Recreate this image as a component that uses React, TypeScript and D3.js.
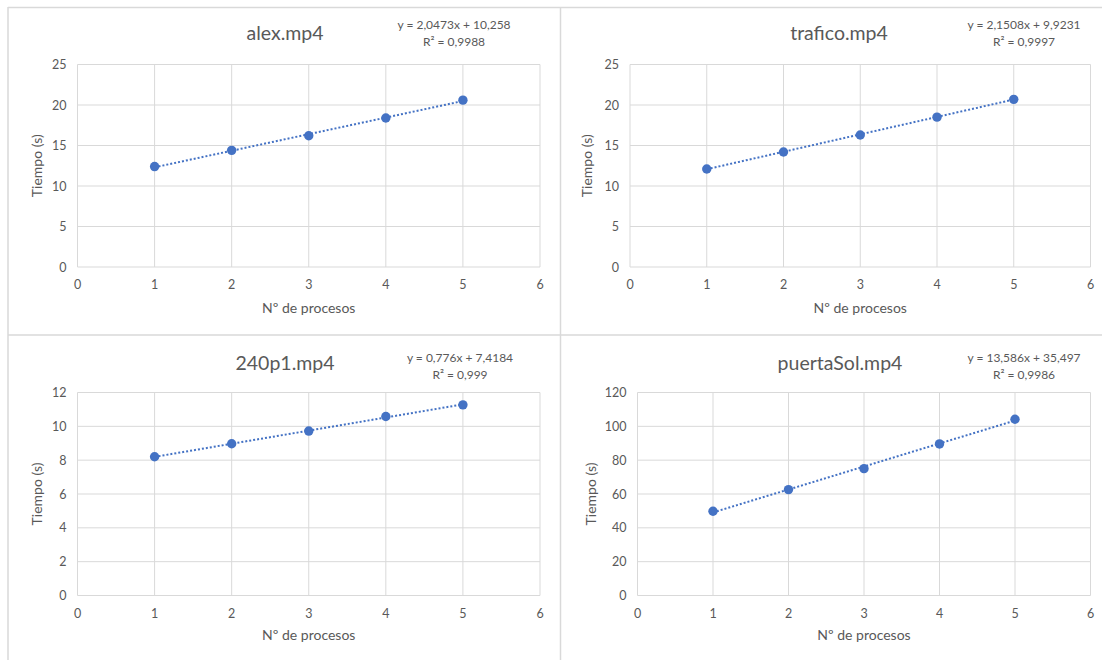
import React from "react";
import * as d3 from "d3";

// ---- data ----
const titles = ["alex.mp4", "trafico.mp4", "240p1.mp4", "puertaSol.mp4"];
const procesos = [1, 2, 3, 4, 5];
const alexTimes = [12.4, 14.4, 16.2, 18.4, 20.6];
const traficoTimes = [12.1, 14.2, 16.3, 18.5, 20.7];
const p240Times = [8.2, 8.97, 9.72, 10.58, 11.27];
const puertaSolTimes = [49.8, 62.6, 75.0, 89.6, 104.2];
const slopes = [2.0473, 2.1508, 0.776, 13.586];
const intercepts = [10.258, 9.9231, 7.4184, 35.497];
const r2Values = ["0,9988", "0,9997", "0,999", "0,9986"];
const equationTexts = [
  "y = 2,0473x + 10,258",
  "y = 2,1508x + 9,9231",
  "y = 0,776x + 7,4184",
  "y = 13,586x + 35,497",
];
const yMaxes = [25, 25, 12, 120];
const yStepTicks = [
  [0, 5, 10, 15, 20, 25],
  [0, 5, 10, 15, 20, 25],
  [0, 2, 4, 6, 8, 10, 12],
  [0, 20, 40, 60, 80, 100, 120],
];
const xTicks = [0, 1, 2, 3, 4, 5, 6];
const xAxisTitle = "Nº de procesos";
const yAxisTitle = "Tiempo (s)";

const seriesList = [alexTimes, traficoTimes, p240Times, puertaSolTimes];

// ---- layout ----
const layouts = [
  { x0: 77.5, x1: 540, y0: 64.5, y1: 267, titleX: 285, titleY: 39.5, eqX: 454, eqY: 28.5, ytX: 42, xtY: 312.5 },
  { x0: 630, x1: 1090.5, y0: 64.5, y1: 267, titleX: 839, titleY: 39.5, eqX: 1024, eqY: 28.5, ytX: 592, xtY: 312.5 },
  { x0: 77.5, x1: 540, y0: 392.5, y1: 595.5, titleX: 285, titleY: 370, eqX: 460, eqY: 362, ytX: 42, xtY: 640 },
  { x0: 637.5, x1: 1090.5, y0: 392.5, y1: 595.5, titleX: 840, titleY: 370, eqX: 1024, eqY: 362, ytX: 596, xtY: 640 },
];

const FONT = "Lato, 'Open Sans', sans-serif";
const GRID = "#d9d9d9";
const TEXT = "#595959";
const BLUE = "#4472C4";

function Panel({ i }: { i: number }) {
  const L = layouts[i];
  const x = d3.scaleLinear().domain([0, 6]).range([L.x0, L.x1]);
  const y = d3.scaleLinear().domain([0, yMaxes[i]]).range([L.y1, L.y0]);
  const data = procesos.map((p, k) => ({ p, t: seriesList[i][k] }));
  const trend = [1, 5].map((p) => ({ p, t: slopes[i] * p + intercepts[i] }));
  const line = d3
    .line<{ p: number; t: number }>()
    .x((d) => x(d.p))
    .y((d) => y(d.t));
  const cx = (L.x0 + L.x1) / 2;
  const cy = (L.y0 + L.y1) / 2;
  return (
    <g>
      {yStepTicks[i].map((v) => (
        <g key={"h" + v}>
          <line x1={L.x0} x2={L.x1} y1={y(v)} y2={y(v)} stroke={GRID} strokeWidth={1} />
          <text x={L.x0 - 11} y={y(v) + 4.5} textAnchor="end" fontSize={12.5} fill={TEXT} fontFamily={FONT}>
            {v}
          </text>
        </g>
      ))}
      {xTicks.map((v) => (
        <g key={"v" + v}>
          <line x1={x(v)} x2={x(v)} y1={L.y0} y2={L.y1} stroke={GRID} strokeWidth={1} />
          <text x={x(v)} y={L.y1 + 22} textAnchor="middle" fontSize={12.5} fill={TEXT} fontFamily={FONT}>
            {v}
          </text>
        </g>
      ))}
      <path d={line(trend) || ""} fill="none" stroke={BLUE} strokeWidth={2} strokeDasharray="2 2" />
      {data.map((d) => (
        <circle key={d.p} cx={x(d.p)} cy={y(d.t)} r={4.7} fill={BLUE} />
      ))}
      <text x={L.titleX} y={L.titleY} textAnchor="middle" fontSize={19.5} fill={TEXT} fontFamily={FONT}>
        {titles[i]}
      </text>
      <text x={L.eqX} y={L.eqY} textAnchor="middle" fontSize={12} fill={TEXT} fontFamily={FONT}>
        {equationTexts[i]}
      </text>
      <text x={L.eqX} y={L.eqY + 17} textAnchor="middle" fontSize={12} fill={TEXT} fontFamily={FONT}>
        {"R² = " + r2Values[i]}
      </text>
      <text
        transform={`translate(${L.ytX},${cy}) rotate(-90)`}
        textAnchor="middle"
        fontSize={14}
        fill={TEXT}
        fontFamily={FONT}
      >
        {yAxisTitle}
      </text>
      <text x={cx} y={L.xtY} textAnchor="middle" fontSize={14} fill={TEXT} fontFamily={FONT}>
        {xAxisTitle}
      </text>
    </g>
  );
}

export default function App() {
  return (
    <svg
      width={1102}
      height={660}
      style={{ position: "absolute", left: 0, top: 0, background: "#fff" }}
    >
      <rect x={0} y={0} width={1102} height={660} fill="#fff" />
      <line x1={8} x2={1102} y1={7.5} y2={7.5} stroke={GRID} strokeWidth={1.5} />
      <line x1={8} x2={1102} y1={335} y2={335} stroke={GRID} strokeWidth={1.5} />
      <line x1={8} x2={8} y1={7} y2={660} stroke={GRID} strokeWidth={1.5} />
      <line x1={560.5} x2={560.5} y1={7} y2={660} stroke={GRID} strokeWidth={1.5} />
      {[0, 1, 2, 3].map((i) => (
        <Panel key={i} i={i} />
      ))}
    </svg>
  );
}
